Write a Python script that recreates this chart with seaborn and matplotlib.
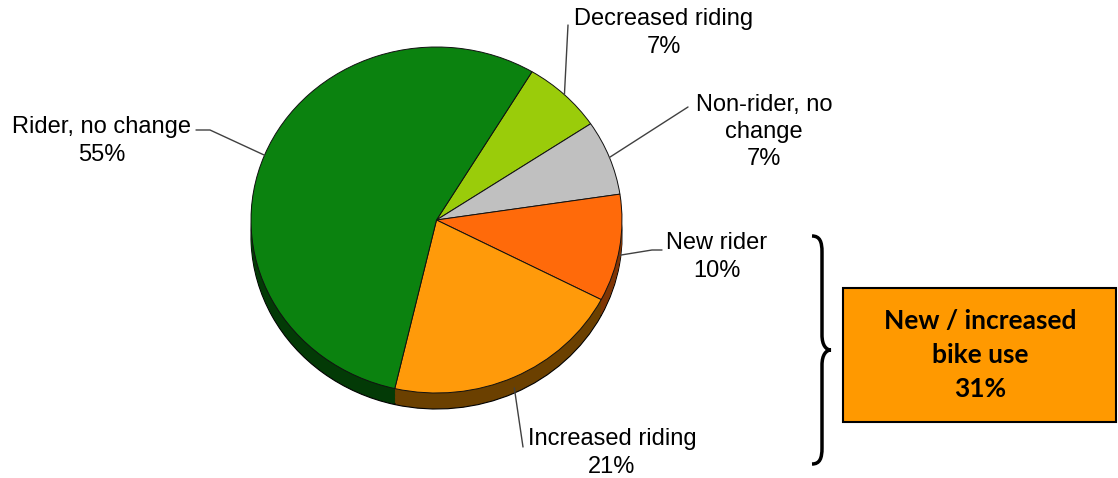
import numpy as np
import matplotlib
matplotlib.use("Agg")
import matplotlib.pyplot as plt
from matplotlib.path import Path
from matplotlib.patches import PathPatch, Rectangle
import seaborn as sns

# data (clockwise from the top-right)
labels = ["Decreased riding", "Non-rider, no\nchange", "New rider", "Increased riding", "Rider, no change"]
shares = [7, 7, 10, 21, 55]
colors = ["#9ACC0A", "#C0C0C0", "#FF6A0A", "#FF9A0A", "#0B820F"]
side_colors = ["#4d6605", "#606060", "#7f3505", "#6b4000", "#033a06"]
summary_text = "New / increased\nbike use\n31%"

sns.set_style("white")
plt.rcParams["font.family"] = ["Liberation Sans", "DejaVu Sans"]

W, H = 1118, 478
fig = plt.figure(figsize=(W / 100, H / 100), dpi=100)

# pie geometry in pixels
cx, cy, rx, ry, depth = 436.5, 220, 185.5, 173, 16
start = 59

ax = fig.add_axes([(cx - rx) / W, (H - (cy + ry)) / H, 2 * rx / W, 2 * ry / H])
n_layers = 12
d = depth / ry
for k in range(n_layers, 0, -1):
    wedges, _ = ax.pie(shares, colors=side_colors, startangle=start, counterclock=False,
                       center=(0, -d * k / n_layers), radius=1, frame=True,
                       wedgeprops=dict(edgecolor="black" if k == n_layers else "none",
                                       linewidth=0.8))
    for w in wedges:
        w.set_clip_on(False)
wedges, _ = ax.pie(shares, colors=colors, startangle=start, counterclock=False,
                   center=(0, 0), radius=1, frame=True,
                   wedgeprops=dict(edgecolor="#111111", linewidth=0.7))
for w in wedges:
    w.set_clip_on(False)
ax.set_aspect("auto")
ax.set_xlim(-1, 1)
ax.set_ylim(-1, 1)
ax.axis("off")

# overlay in pixel coordinates for labels, leaders, brace and box
ov = fig.add_axes([0, 0, 1, 1])
ov.set_xlim(0, W)
ov.set_ylim(H, 0)
ov.axis("off")

text_pos = [(664, 33), (764, 132), (717, 257), (612, 453), (102, 141)]
leader_start = [[(568, 25)], [(688, 107)], [(662, 250), (652, 250)],
                [(523, 447)], [(196, 130), (210, 130)]]

angles = start - np.cumsum([0] + shares[:-1]) * 3.6 - np.array(shares) * 1.8
for lab, val, ang, tp, pts in zip(labels, shares, angles, text_pos, leader_start):
    a = np.deg2rad(ang)
    ax_x = cx + rx * np.cos(a)
    ax_y = cy - ry * np.sin(a) + depth * max(0, -np.sin(a)) ** 4
    if lab == "New rider":
        ax_y += 7
    xs = [p[0] for p in pts] + [ax_x]
    ys = [p[1] for p in pts] + [ax_y]
    ov.plot(xs, ys, color="#404040", lw=1)
    ov.text(tp[0], tp[1], f"{lab}\n{val}%", ha="center", va="center",
            multialignment="center", fontsize=17, linespacing=1.3, color="black")

# brace
verts = [(812, 236), (820, 236), (822, 242), (822, 252), (822, 335),
         (822, 345), (826, 350), (831, 350),
         (826, 350), (822, 355), (822, 365), (822, 448),
         (822, 458), (820, 464), (812, 464)]
codes = [Path.MOVETO, Path.CURVE4, Path.CURVE4, Path.CURVE4, Path.LINETO,
         Path.CURVE4, Path.CURVE4, Path.CURVE4,
         Path.CURVE4, Path.CURVE4, Path.CURVE4, Path.LINETO,
         Path.CURVE4, Path.CURVE4, Path.CURVE4]
ov.add_patch(PathPatch(Path(verts, codes), fc="none", ec="black", lw=2.5))

# summary box
ov.add_patch(Rectangle((843, 288), 273, 134, fc="#FF9900", ec="black", lw=1.5))
ov.text(980, 355, summary_text, ha="center", va="center", multialignment="center",
        fontsize=19, fontweight="bold", linespacing=1.5, color="black",
        family=["Lato", "DejaVu Sans"])

fig.savefig("out.png", dpi=100)
